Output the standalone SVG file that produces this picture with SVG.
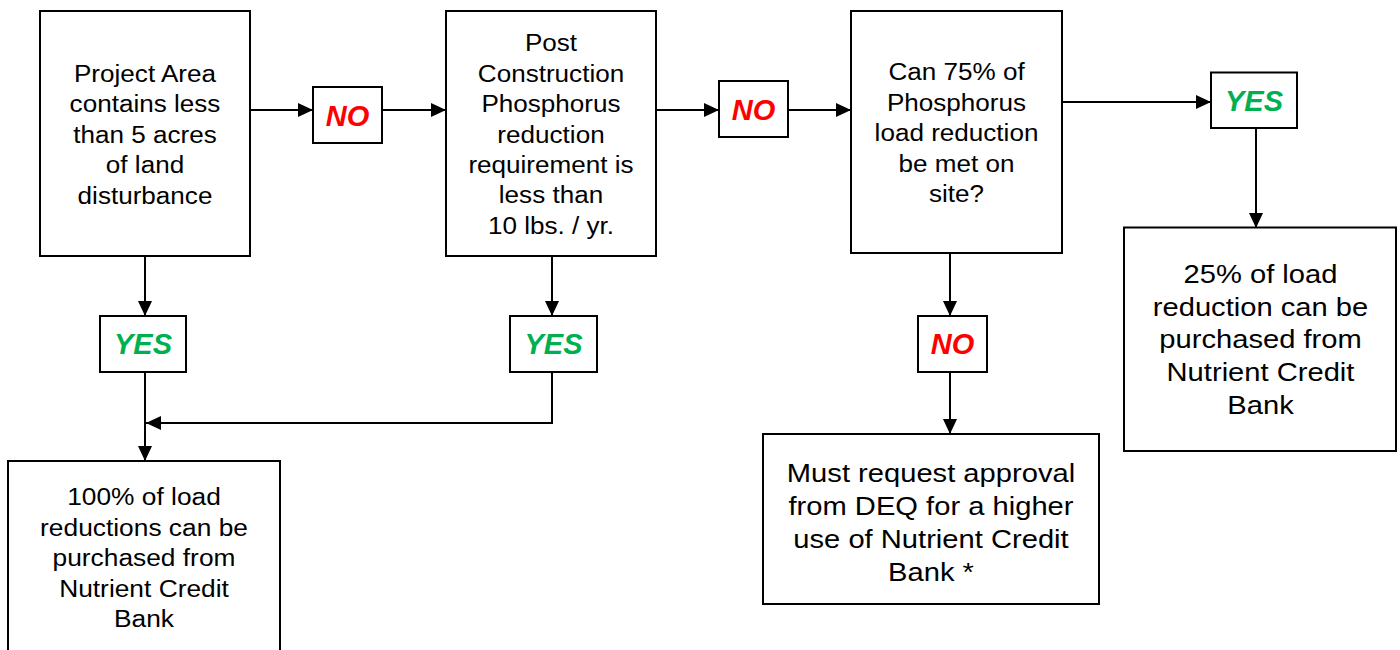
<svg xmlns="http://www.w3.org/2000/svg" width="1400" height="650" viewBox="0 0 1400 650">
<style>
.box{fill:#fff;stroke:#000;stroke-width:2}
.t{font-family:"Liberation Sans",Arial,sans-serif;font-size:23.3px;fill:#000;text-anchor:middle}
.tl{font-family:"Liberation Sans",Arial,sans-serif;font-size:25.8px;fill:#000;text-anchor:middle}
.no{font-family:"Liberation Sans",Arial,sans-serif;font-size:29px;font-weight:bold;font-style:italic;fill:#FF0000;text-anchor:middle}
.yes{font-family:"Liberation Sans",Arial,sans-serif;font-size:29px;font-weight:bold;font-style:italic;fill:#00B050;text-anchor:middle}
.c{fill:none;stroke:#000;stroke-width:2}
</style>
<defs>
<marker id="ah" markerUnits="userSpaceOnUse" markerWidth="16" markerHeight="15" refX="15" refY="7" orient="auto">
<path d="M0,0 L15,7 L0,14 z" fill="#000"/>
</marker>
</defs>
<rect width="1400" height="650" fill="#fff"/>
<g id="connectors">
<line class="c" x1="250" y1="110" x2="313" y2="110" marker-end="url(#ah)"/>
<line class="c" x1="382" y1="110" x2="446" y2="110" marker-end="url(#ah)"/>
<line class="c" x1="656" y1="110" x2="719" y2="110" marker-end="url(#ah)"/>
<line class="c" x1="788" y1="110" x2="851" y2="110" marker-end="url(#ah)"/>
<line class="c" x1="145" y1="256" x2="145" y2="316" marker-end="url(#ah)"/>
<line class="c" x1="145" y1="372" x2="145" y2="461" marker-end="url(#ah)"/>
<line class="c" x1="552" y1="256" x2="552" y2="316" marker-end="url(#ah)"/>
<polyline class="c" points="552,372 552,423 146,423" marker-end="url(#ah)"/>
<line class="c" x1="1062" y1="102" x2="1211" y2="102" marker-end="url(#ah)"/>
<line class="c" x1="1256" y1="128" x2="1256" y2="228" marker-end="url(#ah)"/>
<line class="c" x1="950" y1="253" x2="950" y2="316" marker-end="url(#ah)"/>
<line class="c" x1="950" y1="372" x2="950" y2="434" marker-end="url(#ah)"/>
</g>
<g id="n-project-area">
<rect class="box" x="40" y="11" width="210" height="245"/>
<g transform="translate(145,0) scale(1.12,1)">
<text class="t" x="0" y="82">Project Area</text>
<text class="t" x="0" y="112">contains less</text>
<text class="t" x="0" y="143">than 5 acres</text>
<text class="t" x="0" y="173">of land</text>
<text class="t" x="0" y="204">disturbance</text>
</g>
</g>
<g id="n-no1">
<rect class="box" x="313" y="87" width="69" height="56"/>
<text class="no" x="347.5" y="125.5">NO</text>
</g>
<g id="n-post-construction">
<rect class="box" x="446" y="11" width="210" height="245"/>
<g transform="translate(551,0) scale(1.12,1)">
<text class="t" x="0" y="51">Post</text>
<text class="t" x="0" y="82">Construction</text>
<text class="t" x="0" y="112">Phosphorus</text>
<text class="t" x="0" y="143">reduction</text>
<text class="t" x="0" y="173">requirement is</text>
<text class="t" x="0" y="203.5">less than</text>
<text class="t" x="0" y="234">10 lbs. / yr.</text>
</g>
</g>
<g id="n-no2">
<rect class="box" x="719" y="81" width="69" height="56"/>
<text class="no" x="753.5" y="119.5">NO</text>
</g>
<g id="n-can-75">
<rect class="box" x="851" y="11" width="211" height="242"/>
<g transform="translate(956.5,0) scale(1.12,1)">
<text class="t" x="0" y="80.5">Can 75% of</text>
<text class="t" x="0" y="111">Phosphorus</text>
<text class="t" x="0" y="141.5">load reduction</text>
<text class="t" x="0" y="172">be met on</text>
<text class="t" x="0" y="202">site?</text>
</g>
</g>
<g id="n-yes-right">
<rect class="box" x="1211" y="72.5" width="86" height="55.5"/>
<text class="yes" x="1254" y="111">YES</text>
</g>
<g id="n-25pct">
<rect class="box" x="1124" y="227.5" width="272" height="223.5"/>
<g transform="translate(1260.5,0) scale(1.13,1)">
<text class="tl" x="0" y="283.5">25% of load</text>
<text class="tl" x="0" y="316">reduction can be</text>
<text class="tl" x="0" y="348.5">purchased from</text>
<text class="tl" x="0" y="381.5">Nutrient Credit</text>
<text class="tl" x="0" y="414.5">Bank</text>
</g>
</g>
<g id="n-yes1">
<rect class="box" x="100" y="316" width="86" height="56"/>
<text class="yes" x="143" y="354">YES</text>
</g>
<g id="n-yes2">
<rect class="box" x="510" y="316" width="87" height="56"/>
<text class="yes" x="553.5" y="354">YES</text>
</g>
<g id="n-no3">
<rect class="box" x="918" y="316" width="69" height="56"/>
<text class="no" x="952.5" y="354">NO</text>
</g>
<g id="n-100pct">
<rect class="box" x="8" y="461" width="272" height="200"/>
<g transform="translate(144,0) scale(1.13,1)">
<text class="t" x="0" y="505">100% of load</text>
<text class="t" x="0" y="536">reductions can be</text>
<text class="t" x="0" y="566.5">purchased from</text>
<text class="t" x="0" y="597">Nutrient Credit</text>
<text class="t" x="0" y="627.5">Bank</text>
</g>
</g>
<g id="n-must-request">
<rect class="box" x="763" y="434" width="336" height="170"/>
<g transform="translate(931,0) scale(1.13,1)">
<text class="tl" x="0" y="482">Must request approval</text>
<text class="tl" x="0" y="515">from DEQ for a higher</text>
<text class="tl" x="0" y="548.5">use of Nutrient Credit</text>
<text class="tl" x="0" y="581">Bank *</text>
</g>
</g>
</svg>
